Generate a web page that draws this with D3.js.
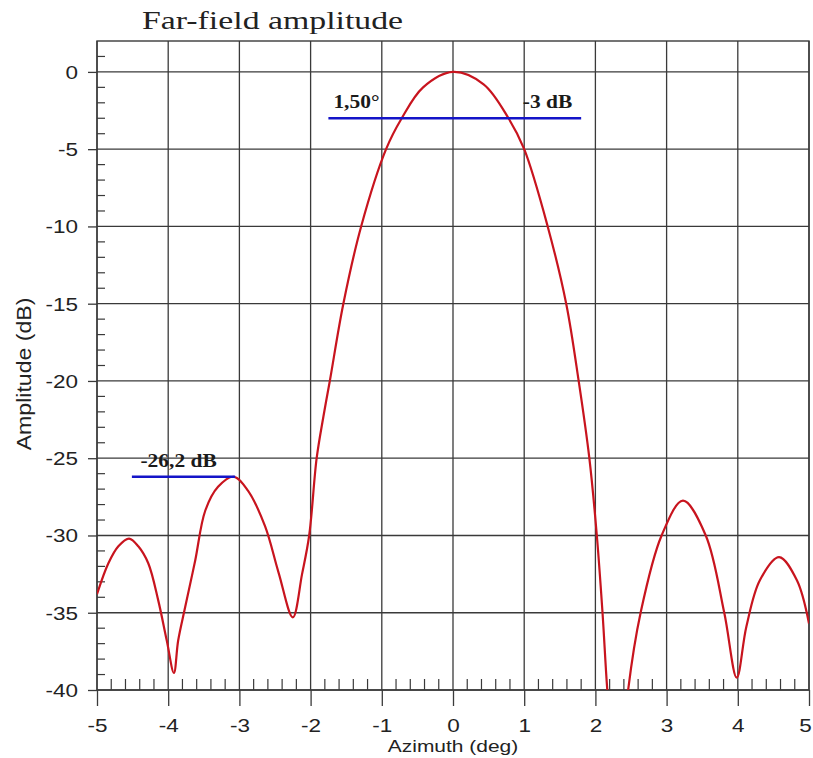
<!DOCTYPE html>
<html>
<head>
<meta charset="utf-8">
<script src="https://cdnjs.cloudflare.com/ajax/libs/d3/7.8.5/d3.min.js"></script>
<style>
  html, body { margin: 0; padding: 0; background: #fff; }
  svg { display: block; }
  .tick-label { font-family: "Liberation Sans", Arial, sans-serif; font-size: 18px; fill: #222; }
  .axis-title { font-family: "Liberation Sans", Arial, sans-serif; font-size: 16.5px; fill: #222; }
  .note { font-family: "Liberation Serif", "Times New Roman", serif; font-size: 19px; font-weight: bold; fill: #1a1a1a; }
</style>
</head>
<body>
<div id="chart"></div>
<script>
// far-field pattern
const azimuth   = [-5, -4.84, -4.7, -4.55, -4.42, -4.28, -4.14, -4.02, -3.92, -3.86, -3.76, -3.62, -3.48, -3.3, -3.08,
                   -2.88, -2.64, -2.45, -2.25, -2.12, -2.02, -1.915, -1.82, -1.73, -1.54, -1.29, -0.94, -0.72, -0.42, 0,
                   0.43, 0.78, 1.0, 1.33, 1.59, 1.765, 1.915, 2.02, 2.1, 2.167, 2.31, 2.46, 2.635, 2.93, 3.23,
                   3.55, 3.81, 3.985, 4.12, 4.31, 4.58, 4.83, 5];
const amplitude = [-33.8, -31.8, -30.7, -30.2, -30.7, -31.8, -34.2, -36.8, -38.9, -36.8, -34.6, -31.6, -28.4, -26.85, -26.2,
                   -27.1, -29.4, -32.4, -35.3, -32.5, -30.0, -25.0, -22.3, -20.0, -15.0, -10.0, -5.0, -3.0, -1.0, 0,
                   -0.8, -3.0, -5.0, -10.0, -15.0, -20.0, -25.0, -30.0, -35.0, -40.0, -48.0, -40.0, -35.0, -30.0, -27.75,
                   -30.0, -35.0, -39.2, -35.9, -32.9, -31.4, -32.9, -35.7];

const xTicks = [-5, -4, -3, -2, -1, 0, 1, 2, 3, 4, 5];
const yTicks = [0, -5, -10, -15, -20, -25, -30, -35, -40];

// -3 dB beamwidth and first sidelobe markers
const beamLine  = { x0: -1.75, x1: 1.8, db: -3 };
const sideLine  = { x0: -4.51, x1: -3.06, db: -26.2 };

const MARGIN = { top: 41, right: 4, bottom: 68, left: 97 };
const WIDTH = 813, HEIGHT = 758;
const W = WIDTH - MARGIN.left - MARGIN.right;
const H = HEIGHT - MARGIN.top - MARGIN.bottom;
const SX = 1.25; // the source text is drawn a bit wide

const GRID = '#3a3a3a';

const svg = d3.select('#chart').append('svg')
  .attr('width', WIDTH).attr('height', HEIGHT);

const g = svg.append('g').attr('transform', `translate(${MARGIN.left},${MARGIN.top})`);

const x = d3.scaleLinear().domain([-5, 5]).range([0, W]);
const y = d3.scaleLinear().domain([-40, 2]).range([H, 0]);

// grid
g.append('g').selectAll('line').data(yTicks).join('line')
  .attr('x1', 0).attr('x2', W).attr('y1', d => y(d)).attr('y2', d => y(d))
  .attr('stroke', GRID).attr('stroke-width', 1.3);
g.append('g').selectAll('line').data(xTicks).join('line')
  .attr('x1', d => x(d)).attr('x2', d => x(d)).attr('y1', 0).attr('y2', H)
  .attr('stroke', GRID).attr('stroke-width', 1.3);

// minor ticks, drawn inward
const yMinor = d3.range(1, -40, -1).filter(v => v % 5 !== 0);
g.append('g').selectAll('line').data(yMinor).join('line')
  .attr('x1', 0).attr('x2', 8).attr('y1', d => y(d)).attr('y2', d => y(d))
  .attr('stroke', GRID).attr('stroke-width', 1.2);
const xMinor = d3.range(-50, 50, 2).map(v => v / 10).filter(v => Math.abs(v - Math.round(v)) > 1e-6);
g.append('g').selectAll('line').data(xMinor).join('line')
  .attr('x1', d => x(d)).attr('x2', d => x(d)).attr('y1', H).attr('y2', H - 11)
  .attr('stroke', GRID).attr('stroke-width', 1.2);

// frame
g.append('rect').attr('width', W).attr('height', H)
  .attr('fill', 'none').attr('stroke', GRID).attr('stroke-width', 1.4);

// axes
g.append('g').attr('transform', `translate(0,${H})`)
  .call(d3.axisBottom(x).tickValues(xTicks).tickSize(16).tickFormat(d => String(d)))
  .call(ax => ax.select('.domain').remove())
  .call(ax => ax.selectAll('line').attr('stroke', GRID).attr('stroke-width', 1.3))
  .call(ax => ax.selectAll('text').attr('class', 'tick-label')
    .attr('y', 0).attr('dy', null).attr('font-size', null).attr('font-family', null).attr('fill', null)
    .attr('text-anchor', 'middle')
    .attr('transform', d => `translate(${d === 5 ? -4 : 0},42) scale(${SX},1)`));

g.append('g')
  .call(d3.axisLeft(y).tickValues(yTicks).tickSize(9).tickFormat(d => String(d)))
  .call(ax => ax.select('.domain').remove())
  .call(ax => ax.selectAll('line').attr('stroke', GRID).attr('stroke-width', 1.3))
  .call(ax => ax.selectAll('text').attr('class', 'tick-label')
    .attr('x', 0).attr('dy', null).attr('font-size', null).attr('font-family', null).attr('fill', null)
    .attr('text-anchor', 'end')
    .attr('transform', `translate(-19,6.5) scale(${SX},1)`));

// curve
svg.append('defs').append('clipPath').attr('id', 'plot-clip')
  .append('rect').attr('width', W).attr('height', H);

const pattern = azimuth.map((a, i) => ({ az: a, db: amplitude[i] }));
g.append('path')
  .datum(pattern)
  .attr('clip-path', 'url(#plot-clip)')
  .attr('fill', 'none')
  .attr('stroke', '#c8141e')
  .attr('stroke-width', 2.2)
  .attr('stroke-linejoin', 'round')
  .attr('d', d3.line().x(d => x(d.az)).y(d => y(d.db)).curve(d3.curveCatmullRom.alpha(0.5)));

// markers
[beamLine, sideLine].forEach(m => {
  g.append('line')
    .attr('x1', x(m.x0)).attr('x2', x(m.x1)).attr('y1', y(m.db)).attr('y2', y(m.db))
    .attr('stroke', '#1414c8').attr('stroke-width', 2.5);
});

const NX = 1.13;
g.append('text').attr('class', 'note')
  .attr('transform', `translate(${x(-1.68)},${y(-3) - 10}) scale(${NX},1)`)
  .text('1,50°');
g.append('text').attr('class', 'note')
  .attr('transform', `translate(${x(0.98)},${y(-3) - 10}) scale(${NX},1)`)
  .text('-3 dB');
g.append('text').attr('class', 'note')
  .attr('transform', `translate(${x(-4.39)},${y(-26.2) - 10}) scale(${NX},1)`)
  .text('-26,2 dB');

// titles
svg.append('text')
  .attr('transform', `translate(142,29) scale(1.3,1)`)
  .style('font-family', '"Liberation Serif", "Times New Roman", serif')
  .style('font-size', '26px')
  .style('fill', '#222')
  .text('Far-field amplitude');

svg.append('text').attr('class', 'axis-title')
  .attr('text-anchor', 'middle')
  .attr('transform', `translate(${MARGIN.left + W / 2},752) scale(1.27,1)`)
  .text('Azimuth (deg)');

svg.append('text').attr('class', 'axis-title')
  .attr('text-anchor', 'middle')
  .attr('transform', `translate(31,374) scale(1.2,1.4) rotate(-90)`)
  .text('Amplitude (dB)');
</script>
</body>
</html>
